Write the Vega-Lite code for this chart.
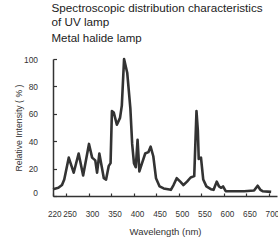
{
  "$schema": "https://vega.github.io/schema/vega-lite/v6.json",
  "autosize": {"type": "none"},
  "padding": {"left": 53, "top": 59, "right": 1, "bottom": 46},
  "width": 224,
  "height": 137,
  "background": "white",
  "title": {
    "text": ["Spectroscopic distribution characteristics", "of UV lamp"],
    "subtitle": "Metal halide lamp",
    "anchor": "start",
    "frame": "group",
    "offset": 11,
    "font": "Liberation Sans",
    "fontSize": 11.7,
    "fontWeight": "normal",
    "color": "#222",
    "lineHeight": 13.5,
    "subtitleFont": "Liberation Sans",
    "subtitleFontSize": 11.5,
    "subtitleColor": "#222",
    "subtitlePadding": 4,
    "dx": -1.5
  },
  "config": {
    "view": {"stroke": null},
    "axis": {
      "labelFont": "Liberation Sans",
      "labelFontSize": 8.4,
      "labelColor": "#333",
      "titleFont": "Liberation Sans",
      "titleFontWeight": "normal",
      "titleColor": "#333",
      "domainColor": "#333",
      "domainWidth": 1.5,
      "tickColor": "#333",
      "tickWidth": 1.2,
      "grid": false
    }
  },
  "data": {
    "values": [
      {"nm": 220, "v": 5}, {"nm": 232, "v": 6}, {"nm": 240, "v": 8}, {"nm": 245, "v": 12},
      {"nm": 255, "v": 28}, {"nm": 266, "v": 17}, {"nm": 277, "v": 31}, {"nm": 287, "v": 15},
      {"nm": 300, "v": 38}, {"nm": 307, "v": 28}, {"nm": 314, "v": 26}, {"nm": 318, "v": 17},
      {"nm": 323, "v": 31}, {"nm": 333, "v": 13}, {"nm": 338, "v": 12}, {"nm": 344, "v": 22},
      {"nm": 348, "v": 24}, {"nm": 351, "v": 62}, {"nm": 355, "v": 61}, {"nm": 362, "v": 52},
      {"nm": 369, "v": 57}, {"nm": 373, "v": 66}, {"nm": 378, "v": 100}, {"nm": 385, "v": 90},
      {"nm": 392, "v": 64}, {"nm": 396, "v": 38}, {"nm": 400, "v": 24}, {"nm": 404, "v": 21},
      {"nm": 408, "v": 41}, {"nm": 412, "v": 18}, {"nm": 418, "v": 24}, {"nm": 425, "v": 31},
      {"nm": 432, "v": 32}, {"nm": 437, "v": 36}, {"nm": 443, "v": 29}, {"nm": 449, "v": 13},
      {"nm": 457, "v": 7}, {"nm": 466, "v": 5.5}, {"nm": 482, "v": 4.5}, {"nm": 488, "v": 8},
      {"nm": 495, "v": 13}, {"nm": 503, "v": 10.5}, {"nm": 510, "v": 8}, {"nm": 518, "v": 10.5},
      {"nm": 526, "v": 13.5}, {"nm": 534, "v": 14.5}, {"nm": 539, "v": 62}, {"nm": 542, "v": 48},
      {"nm": 544, "v": 27}, {"nm": 549, "v": 28}, {"nm": 554, "v": 12}, {"nm": 561, "v": 7},
      {"nm": 571, "v": 5}, {"nm": 577, "v": 4.5}, {"nm": 584, "v": 10.5}, {"nm": 589, "v": 7},
      {"nm": 594, "v": 6}, {"nm": 598, "v": 7}, {"nm": 604, "v": 3.5}, {"nm": 620, "v": 3.5},
      {"nm": 645, "v": 3.5}, {"nm": 667, "v": 4}, {"nm": 675, "v": 7.5}, {"nm": 681, "v": 4.5},
      {"nm": 686, "v": 3.5}, {"nm": 705, "v": 3}
    ]
  },
  "mark": {"type": "line", "color": "#333", "strokeWidth": 2.6, "strokeJoin": "round"},
  "encoding": {
    "x": {
      "field": "nm",
      "type": "quantitative",
      "scale": {"domain": [220, 718], "nice": false, "zero": false},
      "axis": {
        "values": [220, 250, 300, 350, 400, 450, 500, 550, 600, 650, 700],
        "tickSize": -3,
        "labelPadding": 17,
        "labelOverlap": false,
        "labelFontSize": 8.2,
        "labelOffset": {"condition": {"test": "datum.value < 230", "value": -5.5}, "value": 3},
        "title": "Wavelength (nm)",
        "titleFontSize": 9.5,
        "titlePadding": 9
      }
    },
    "y": {
      "field": "v",
      "type": "quantitative",
      "scale": {"domain": [0, 100], "nice": false},
      "axis": {
        "values": [0, 20, 40, 60, 80, 100],
        "tickSize": -3.5,
        "labelPadding": 19,
        "labelOffset": {"condition": {"test": "datum.value === 0", "value": -4}, "value": 0},
        "title": "Relative Intensity ( % )",
        "titleFontSize": 8.7,
        "titlePadding": 0
      }
    }
  }
}
